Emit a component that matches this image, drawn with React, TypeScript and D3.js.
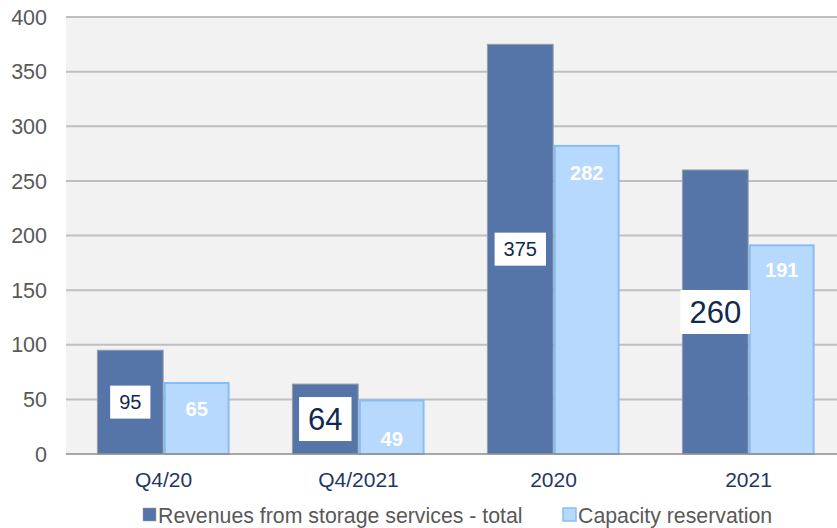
import * as d3 from 'd3'

const categories = ['Q4/20', 'Q4/2021', '2020', '2021']
const seriesNames = ['Revenues from storage services - total', 'Capacity reservation']
const storageTotal = [95, 64, 375, 260]
const capacityReservation = [65, 49, 282, 191]
const yTicks = [0, 50, 100, 150, 200, 250, 300, 350, 400]

// label styling
const totalLabelSize = [20, 31, 20, 31]
const capacityLabelDrop = [26, 38, 27, 24]

const W = 837
const H = 528
const M = { top: 17, right: 0, bottom: 74, left: 66 }
// the category axis runs on past the right edge of the image
const X_END = 846
const FONT = 'Arial, "Liberation Sans", sans-serif'
const DARK = '#5575a9'
const LIGHT = '#b8d9fe'
const LIGHT_STROKE = '#86bdf6'
const DARK_STROKE = '#9a9ea6'

export default function App() {
  const x = d3.scaleBand().domain(categories).range([M.left, X_END]).paddingInner(0).paddingOuter(0)
  const x1 = d3.scaleBand().domain(['a', 'b'])
    .range([x.bandwidth() * 0.161, x.bandwidth() * 0.839]).paddingInner(0.01).paddingOuter(0)
  const y = d3.scaleLinear().domain([0, 400]).range([H - M.bottom, M.top])
  const bw = x1.bandwidth()

  return (
    <svg width={W} height={H} style={{ position: 'absolute', left: 0, top: 0, background: '#fff' }} fontFamily={FONT}>
      <rect x={M.left} y={M.top} width={W - M.left - M.right} height={y(0) - M.top} fill="#f2f2f2" />
      {yTicks.filter(t => t > 0).map(t => (
        <line key={t} x1={M.left} x2={W - M.right} y1={y(t)} y2={y(t)} stroke="#bfbfbf" strokeWidth={2} />
      ))}
      {yTicks.map(t => (
        <text key={t} x={47} y={y(t)} dy="0.36em" textAnchor="end" fontSize={21.5} fill="#595959">{t}</text>
      ))}

      {categories.map((c, i) => {
        const xa = x(c)! + x1('a')!
        const xb = x(c)! + x1('b')!
        const v1 = storageTotal[i]
        const v2 = capacityReservation[i]
        const fs = totalLabelSize[i]
        const txt = String(v1)
        const tw = txt.length * 0.556 * fs
        const bwid = tw + 18
        const bh = fs + 13
        const cy = (y(v1) + y(0)) / 2
        const cx = xa + bw / 2
        return (
          <g key={c}>
            <rect x={xa} y={y(v1)} width={bw} height={y(0) - y(v1)} fill={DARK} stroke={DARK_STROKE} strokeWidth={1} />
            <rect x={xb + 1} y={y(v2)} width={bw - 2} height={y(0) - y(v2)} fill={LIGHT} stroke={LIGHT_STROKE} strokeWidth={2} />
            <rect x={cx - bwid / 2} y={cy - bh / 2} width={bwid} height={bh} fill="#fff" />
            <text x={cx} y={cy} dy="0.36em" textAnchor="middle" fontSize={fs} fill="#0f2a4f">{txt}</text>
            <text x={xb + bw / 2} y={y(v2) + capacityLabelDrop[i]} dy="0.36em" textAnchor="middle" fontSize={20} fontWeight="bold" fill="#fff">{v2}</text>
            <text x={x(c)! + x.bandwidth() / 2} y={479} dy="0.36em" textAnchor="middle" fontSize={21} fill="#1f3763">{c}</text>
          </g>
        )
      })}

      <line x1={M.left} x2={W - M.right} y1={y(0)} y2={y(0)} stroke="#8c8c8c" strokeWidth={1.5} />

      <g fontSize={21.3} fill="#595959">
        <rect x={143} y={508} width={13} height={13} fill={DARK} stroke={DARK_STROKE} strokeWidth={0.5} />
        <text x={158} y={515} dy="0.36em">{seriesNames[0]}</text>
        <rect x={563} y={508} width={13} height={13} fill={LIGHT} stroke={LIGHT_STROKE} strokeWidth={1.5} />
        <text x={578} y={515} dy="0.36em">{seriesNames[1]}</text>
      </g>
    </svg>
  )
}
